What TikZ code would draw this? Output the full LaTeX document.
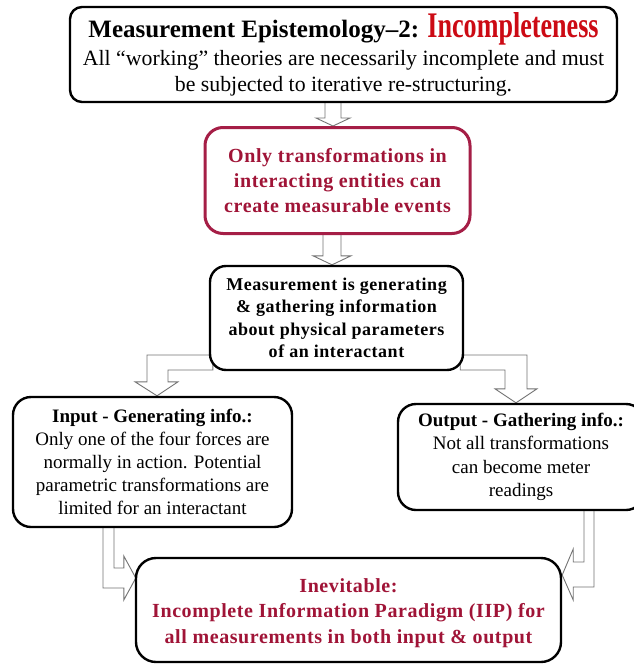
\documentclass[tikz,border=0pt]{standalone}
\usepackage{fontspec}
\setmainfont{Liberation Serif}
\newfontfamily\widefont[LetterSpace=3]{Liberation Serif}
\newfontfamily\narrowfont[FakeStretch=0.725]{Liberation Serif}
\usepackage{tikz}
\usetikzlibrary{calc,backgrounds}

\definecolor{titlered}{RGB}{204,10,20}
\definecolor{crimson}{RGB}{165,30,70}
\definecolor{crimsontext}{RGB}{160,20,55}

\begin{document}
\begin{tikzpicture}[x=1pt,y=-1pt]
				
				\tikzset{box/.style={
						draw, line width=2.4pt, fill=white,
						rounded corners=#1,
						align=center, inner sep=0pt
					},
					box/.default=14pt,
					blockarrow/.style={
						draw=black!55, line width=0.9pt, fill=white, line join=miter
					}
				}
				\useasboundingbox (0,0) rectangle (634,664);
				\clip (0,0) rectangle (634,664);
				
				\node[box=12pt, minimum width=547pt, minimum height=95pt,
				font=\fontsize{21.8}{26}\selectfont] (epist) at (343.5,54.5)
				{{\fontsize{25}{30}\selectfont\bfseries Measurement Epistemology--2: {\color{titlered}\narrowfont\fontsize{36}{30}\selectfont Incompleteness}}\\[2pt]
					All ``working'' theories are necessarily incomplete and must\\
					be subjected to iterative re-structuring.};
				
				\node[box=18pt, draw=crimson, line width=3pt, minimum width=265pt, minimum height=106pt,
				text=crimsontext, font=\widefont\bfseries\fontsize{20}{25}\selectfont] (trans) at (337.5,180.5)
				{Only transformations in\\ interacting entities can\\ create measurable events};
				
				\node[box=16pt, minimum width=253pt, minimum height=104pt,
				font=\widefont\bfseries\fontsize{18}{22.5}\selectfont] (meas) at (336.5,318)
				{Measurement is generating\\ \& gathering information\\ about physical parameters\\ of an interactant};
				
				\node[box=18pt, minimum width=279pt, minimum height=130pt,
				font=\fontsize{19}{23}\selectfont] (input) at (152.5,462)
				{\textbf{Input - Generating info.:}\\ Only one of the four forces are\\ normally in action. Potential\\ parametric transformations are\\ limited for an interactant};
				
				\node[box=18pt, minimum width=246pt, minimum height=106pt,
				font=\fontsize{19}{23.5}\selectfont] (output) at (521,457)
				{\textbf{Output - Gathering info.:}\\ Not all transformations\\ can become meter\\ readings};
				
				\node[box=20pt, minimum width=425pt, minimum height=104pt,
				text=crimsontext, font=\widefont\bfseries\fontsize{20}{25.5}\selectfont] (iip) at (348.5,610)
				{\rule{0pt}{20pt}Inevitable:\\ Incomplete Information Paradigm (IIP) for\\ all measurements in both input \& output};
				
				\begin{pgfonlayer}{background}
				% straight arrows
				\draw[blockarrow] let \p1=(epist.south), \p2=(trans.north) in
				(\x2-12.5pt,\y1+4pt) -- (\x2-12.5pt,\y2+8pt) -- (\x2-21.5pt,\y2+8pt) -- (\x2-4.5pt,\y2)
				-- (\x2+12.5pt,\y2+8pt) -- (\x2+3.5pt,\y2+8pt) -- (\x2+3.5pt,\y1+4pt) -- cycle;
				\draw[blockarrow] let \p1=(trans.south), \p2=(meas.north) in
				(\x2-13.5pt,\y1+4pt) -- (\x2-13.5pt,\y2+9pt) -- (\x2-23.5pt,\y2+9pt) -- (\x2-4.5pt,\y2)
				-- (\x2+14.5pt,\y2+9pt) -- (\x2+4.5pt,\y2+9pt) -- (\x2+4.5pt,\y1+4pt) -- cycle;
				% elbow arrows
				\draw[blockarrow] let \p1=(meas.west), \p2=(input.north) in
				(\x1+4pt,\y1-37pt) -- (\x2-5.5pt,\y1-37pt) -- (\x2-5.5pt,\y2+14pt) -- (\x2-17.5pt,\y2+14pt)
				-- (\x2+4.5pt,\y2) -- (\x2+25.5pt,\y2+14pt) -- (\x2+15.5pt,\y2+14pt) -- (\x2+15.5pt,\y1-52pt)
				-- (\x1+4pt,\y1-52pt) -- cycle;
				\draw[blockarrow] let \p1=(meas.east), \p2=(output.north) in
				(\x1-4pt,\y1-37pt) -- (\x2+6pt,\y1-37pt) -- (\x2+6pt,\y2+14pt) -- (\x2+16pt,\y2+14pt)
				-- (\x2-5pt,\y2) -- (\x2-26pt,\y2+14pt) -- (\x2-16pt,\y2+14pt) -- (\x2-16pt,\y1-52pt)
				-- (\x1-4pt,\y1-52pt) -- cycle;
				\draw[blockarrow] let \p1=(input.south), \p2=(iip.west) in
				(\x1-49.5pt,\y1+4pt) -- (\x1-49.5pt,\y2+22pt) -- (\x2-11pt,\y2+22pt) -- (\x2-11pt,\y2+10pt)
				-- (\x2+1pt,\y2+32pt) -- (\x2-11pt,\y2+54pt) -- (\x2-11pt,\y2+42pt) -- (\x1-38.5pt,\y2+42pt)
				-- (\x1-38.5pt,\y1+4pt) -- cycle;
				\draw[blockarrow] let \p1=(output.south), \p2=(iip.east) in
				(\x1+73pt,\y1+4pt) -- (\x1+73pt,\y2+23pt) -- (\x2+11pt,\y2+23pt) -- (\x2+11pt,\y2+10pt)
				-- (\x2,\y2+35pt) -- (\x2+11pt,\y2+61pt) -- (\x2+11pt,\y2+48pt) -- (\x1+63pt,\y2+48pt)
				-- (\x1+63pt,\y1+4pt) -- cycle;
				\end{pgfonlayer}
				
\end{tikzpicture}
\end{document}
